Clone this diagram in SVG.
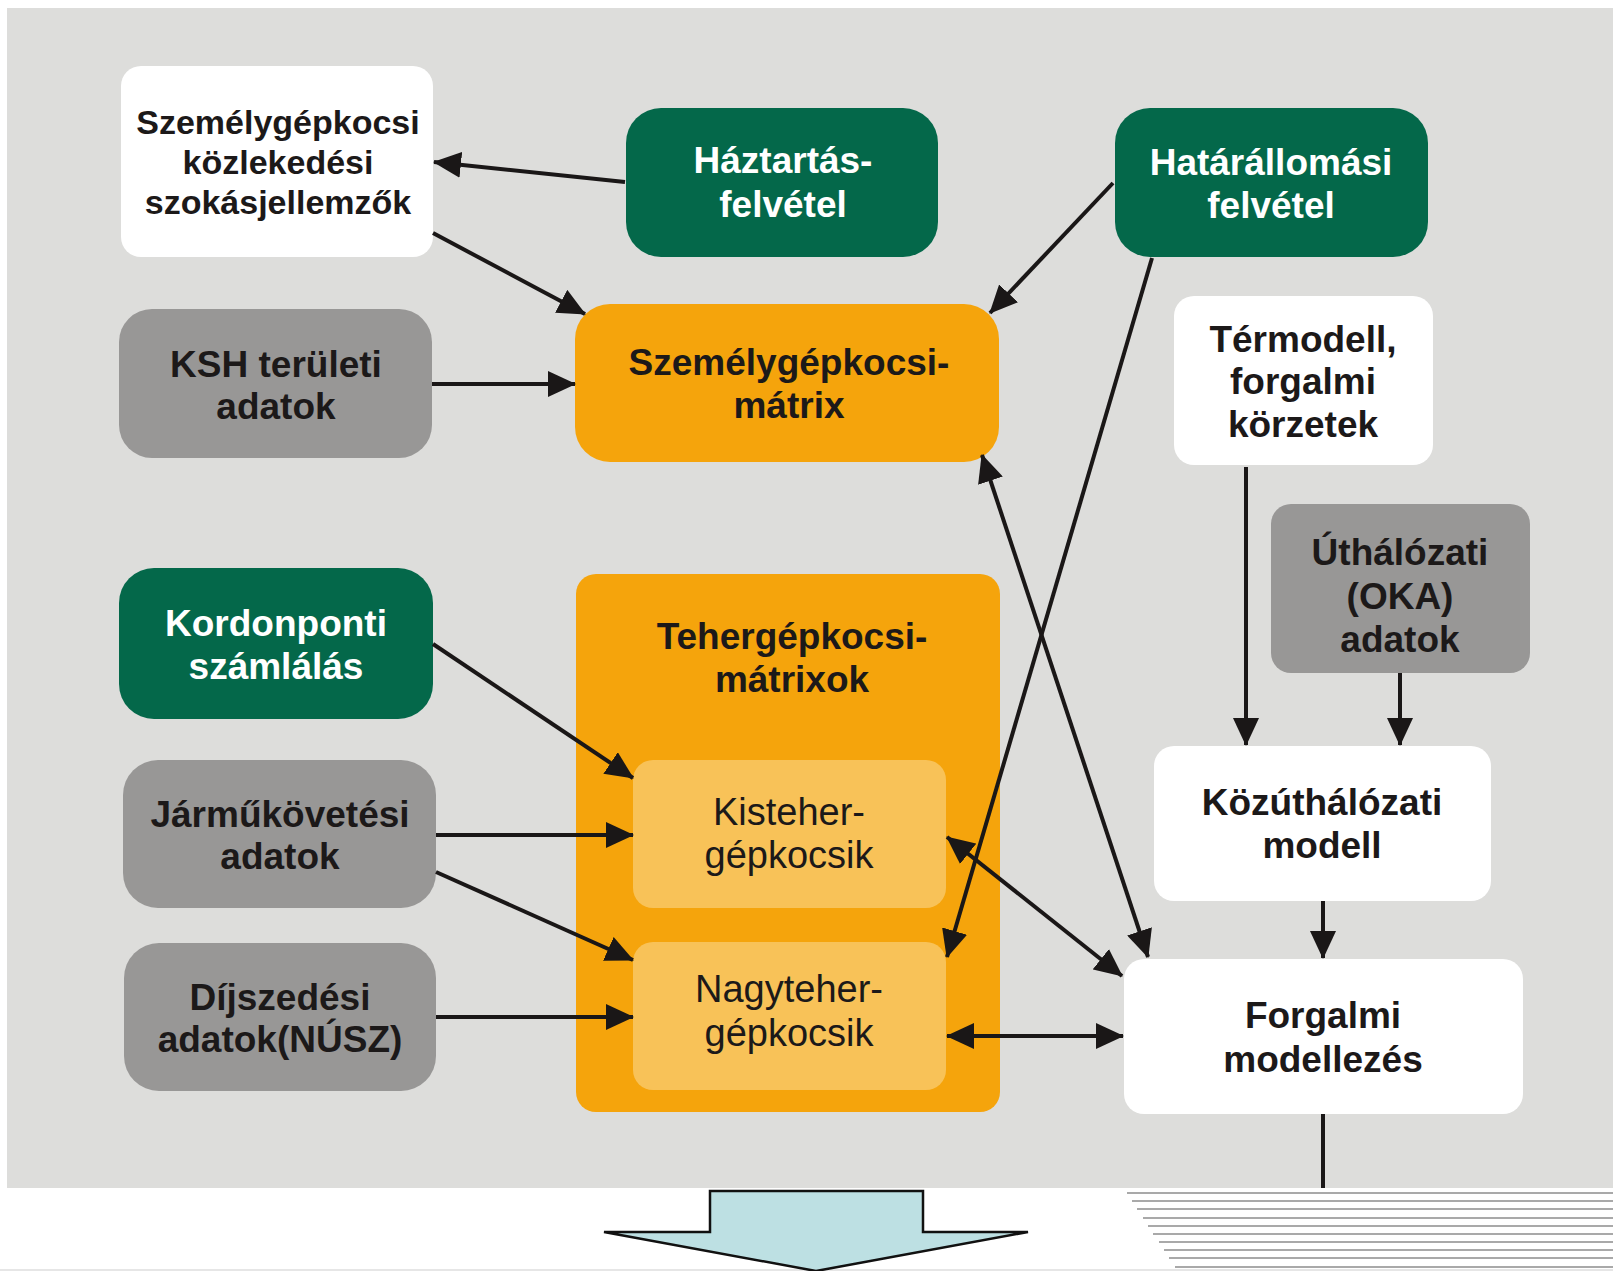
<svg xmlns="http://www.w3.org/2000/svg" width="1613" height="1271" viewBox="0 0 1613 1271">
<defs>
<style>
.t{font-family:"Liberation Sans",Arial,sans-serif;font-size:37px;font-weight:bold;text-anchor:middle;fill:#1c1919}
.w{fill:#ffffff}
.r{font-weight:normal;font-size:38px}
.s{font-size:34px}
.green{fill:#04684a}
.gray{fill:#989796}
.white{fill:#ffffff}
.orange{fill:#f5a40c}
.lorange{fill:#f8c258}
.c{stroke:#1a1717;stroke-width:4;fill:none}
</style>
<marker id="ah" markerUnits="userSpaceOnUse" markerWidth="28" markerHeight="26" viewBox="0 0 28 26" refX="27" refY="13" orient="auto-start-reverse">
<path d="M0,0 L28,13 L0,26 z" fill="#1a1717"/>
</marker>
</defs>
<rect x="0" y="0" width="1613" height="1271" fill="#ffffff"/>
<rect x="7" y="8" width="1606" height="1180" fill="#dddddb"/>

<g id="n-szokas">
<rect x="121" y="66" width="312" height="191" rx="20" class="white"/>
<text class="t s" x="278" y="134">Személygépkocsi</text>
<text class="t s" x="278" y="174">közlekedési</text>
<text class="t s" x="278" y="214">szokásjellemzők</text>
</g>
<g id="n-haztartas">
<rect x="626" y="108" width="312" height="149" rx="35" class="green"/>
<text class="t w" x="783" y="173">Háztartás-</text>
<text class="t w" x="783" y="217">felvétel</text>
</g>
<g id="n-hatar">
<rect x="1115" y="108" width="313" height="149" rx="35" class="green"/>
<text class="t w" x="1271" y="175">Határállomási</text>
<text class="t w" x="1271" y="218">felvétel</text>
</g>
<g id="n-ksh">
<rect x="119" y="309" width="313" height="149" rx="33" class="gray"/>
<text class="t" x="276" y="377">KSH területi</text>
<text class="t" x="276" y="419">adatok</text>
</g>
<g id="n-szgmatrix">
<rect x="575" y="304" width="424" height="158" rx="35" class="orange"/>
<text class="t" x="789" y="375">Személygépkocsi-</text>
<text class="t" x="789" y="418">mátrix</text>
</g>
<g id="n-termodell">
<rect x="1174" y="296" width="259" height="169" rx="20" class="white"/>
<text class="t" x="1303" y="352">Térmodell,</text>
<text class="t" x="1303" y="394">forgalmi</text>
<text class="t" x="1303" y="437">körzetek</text>
</g>
<g id="n-uthalozati">
<rect x="1271" y="504" width="259" height="169" rx="20" class="gray"/>
<text class="t" x="1400" y="565">Úthálózati</text>
<text class="t" x="1400" y="609">(OKA)</text>
<text class="t" x="1400" y="652">adatok</text>
</g>
<g id="n-kordon">
<rect x="119" y="568" width="314" height="151" rx="35" class="green"/>
<text class="t w" x="276" y="636">Kordonponti</text>
<text class="t w" x="276" y="679">számlálás</text>
</g>
<g id="n-teher">
<rect x="576" y="574" width="424" height="538" rx="20" class="orange"/>
<text class="t" x="792" y="649">Tehergépkocsi-</text>
<text class="t" x="792" y="692">mátrixok</text>
</g>
<g id="n-kisteher">
<rect x="633" y="760" width="313" height="148" rx="20" class="lorange"/>
<text class="t r" x="789" y="825">Kisteher-</text>
<text class="t r" x="789" y="868">gépkocsik</text>
</g>
<g id="n-nagyteher">
<rect x="633" y="942" width="313" height="148" rx="20" class="lorange"/>
<text class="t r" x="789" y="1002">Nagyteher-</text>
<text class="t r" x="789" y="1046">gépkocsik</text>
</g>
<g id="n-jarmu">
<rect x="123" y="760" width="313" height="148" rx="35" class="gray"/>
<text class="t" x="280" y="827">Járműkövetési</text>
<text class="t" x="280" y="869">adatok</text>
</g>
<g id="n-dij">
<rect x="124" y="943" width="312" height="148" rx="35" class="gray"/>
<text class="t" x="280" y="1010">Díjszedési</text>
<text class="t" x="280" y="1052">adatok(NÚSZ)</text>
</g>
<g id="n-kozut">
<rect x="1154" y="746" width="337" height="155" rx="20" class="white"/>
<text class="t" x="1322" y="815">Közúthálózati</text>
<text class="t" x="1322" y="858">modell</text>
</g>
<g id="n-forgalmi">
<rect x="1124" y="959" width="399" height="155" rx="20" class="white"/>
<text class="t" x="1323" y="1028">Forgalmi</text>
<text class="t" x="1323" y="1072">modellezés</text>
</g>

<g id="connectors">
<line class="c" x1="625" y1="182" x2="434" y2="162" marker-end="url(#ah)"/>
<line class="c" x1="433" y1="233" x2="585" y2="314" marker-end="url(#ah)"/>
<line class="c" x1="432" y1="384" x2="575" y2="384" marker-end="url(#ah)"/>
<line class="c" x1="1113" y1="183" x2="990" y2="313" marker-end="url(#ah)"/>
<line class="c" x1="1152" y1="258" x2="947" y2="957" marker-end="url(#ah)"/>
<line class="c" x1="982" y1="455" x2="1148" y2="957" marker-start="url(#ah)" marker-end="url(#ah)"/>
<line class="c" x1="1246" y1="467" x2="1246" y2="745" marker-end="url(#ah)"/>
<line class="c" x1="1400" y1="673" x2="1400" y2="745" marker-end="url(#ah)"/>
<line class="c" x1="1323" y1="901" x2="1323" y2="958" marker-end="url(#ah)"/>
<line class="c" x1="1323" y1="1114" x2="1323" y2="1188"/>
<line class="c" x1="433" y1="644" x2="633" y2="778" marker-end="url(#ah)"/>
<line class="c" x1="436" y1="835" x2="633" y2="835" marker-end="url(#ah)"/>
<line class="c" x1="436" y1="872" x2="633" y2="960" marker-end="url(#ah)"/>
<line class="c" x1="436" y1="1017" x2="633" y2="1017" marker-end="url(#ah)"/>
<line class="c" x1="947" y1="837" x2="1122" y2="976" marker-start="url(#ah)" marker-end="url(#ah)"/>
<line class="c" x1="947" y1="1036" x2="1123" y2="1036" marker-start="url(#ah)" marker-end="url(#ah)"/>
</g>

<g id="stripes" stroke="#a9a9a9" stroke-width="2">
<line x1="1127" y1="1193" x2="1613" y2="1193"/>
<line x1="1132" y1="1201" x2="1613" y2="1201"/>
<line x1="1137" y1="1209" x2="1613" y2="1209"/>
<line x1="1143" y1="1218" x2="1613" y2="1218"/>
<line x1="1148" y1="1226" x2="1613" y2="1226"/>
<line x1="1153" y1="1234" x2="1613" y2="1234"/>
<line x1="1159" y1="1242" x2="1613" y2="1242"/>
<line x1="1164" y1="1250" x2="1613" y2="1250"/>
<line x1="1169" y1="1258" x2="1613" y2="1258"/>
<line x1="1175" y1="1267" x2="1613" y2="1267"/>
</g>
<rect x="0" y="1269" width="1613" height="2" fill="#e6e6e6"/>
<g id="bigarrow">
<polygon points="710,1191 923,1191 923,1232 1028,1232 816,1271 604,1232 710,1232" fill="#bde0e3" stroke="#111" stroke-width="2.5" stroke-linejoin="miter"/>
</g>
</svg>
